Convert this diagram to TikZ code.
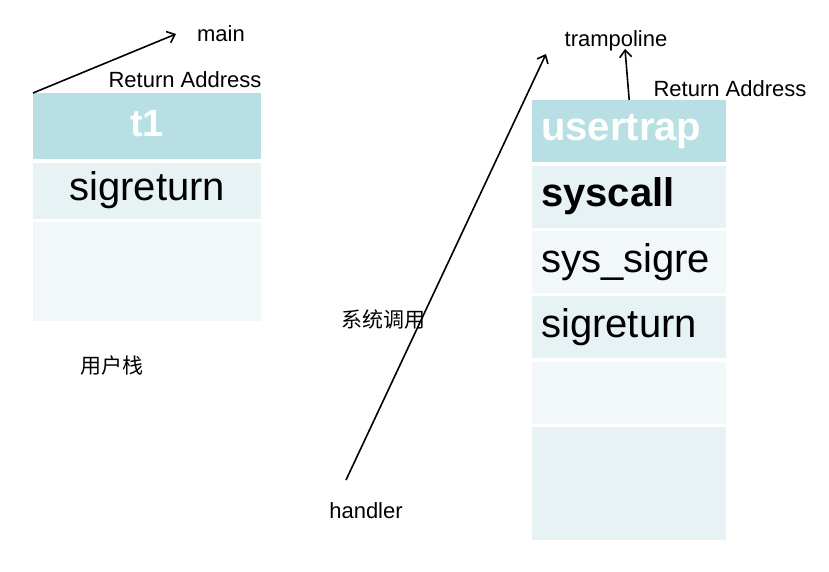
\documentclass[tikz,border=0pt]{standalone}
\usepackage{fontspec}
\setmainfont{Liberation Sans}
\newfontfamily\cjk{Noto Sans CJK SC}
\usetikzlibrary{positioning, arrows.meta}
\definecolor{hdrblue}{RGB}{184,223,227}
\definecolor{rowdark}{RGB}{230,242,244}
\definecolor{rowlight}{RGB}{242,248,250}

\begin{document}
\begin{tikzpicture}[x=1pt, y=-1pt,
  cell/.style={inner sep=0pt, anchor=north west, font=\fontsize{40}{44}\selectfont},
  lcell/.style={cell, minimum width=228pt},
  rcell/.style={cell, minimum width=194pt, text width=176pt, inner xsep=9pt, align=left},
  hdr/.style={fill=hdrblue, text=white},
  lbl/.style={font=\fontsize{22}{26}\selectfont},
  cjklbl/.style={font=\cjk\fontsize{21}{24}\selectfont},
  arr/.style={-{Straight Barb[length=7pt, width=12pt, line width=1.6pt]}, line width=1.6pt}]
\useasboundingbox (0,0) rectangle (829,571);

% user stack
\node[lcell, hdr, minimum height=66pt, font=\bfseries\fontsize{38}{42}\selectfont] (t1) at (33,93) {\raisebox{6pt}{t1}};
\node[lcell, fill=rowdark, minimum height=56pt, below=3pt of t1] (lsig) {sigreturn};
\node[lcell, fill=rowlight, minimum height=99pt, below=3pt of lsig] (lempty) {};

% kernel side
\node[rcell, hdr, minimum height=62pt, font=\bfseries\fontsize{40}{44}\selectfont] (usertrap) at (532,100) {usertrap};
\node[rcell, fill=rowdark, minimum height=62pt, font=\bfseries\fontsize{40}{44}\selectfont, below=3pt of usertrap] (syscall) {syscall};
\node[rcell, fill=rowlight, minimum height=62pt, below=3pt of syscall] (syssigre) {sys\_sigre};
\node[rcell, fill=rowdark, minimum height=62pt, below=3pt of syssigre] (rsig) {sigreturn};
\node[rcell, fill=rowlight, minimum height=62pt, below=3pt of rsig] (rempty) {};
\node[rcell, fill=rowdark, minimum height=113pt, below=3pt of rempty] (rbottom) {};

% labels
\node[lbl] (main) at (221,34) {main};
\node[lbl] (lret) at (185,80) {Return Address};
\node[lbl] (tramp) at (616,41) {trampoline};
\node[lbl] (rret) at (730,89) {Return Address};
\node[lbl] (handler) at (366,511) {handler};
\node[cjklbl] (sctext) at (383,320) {系统调用};
\node[cjklbl] (ustack) at (112,366) {用户栈};

% arrows
\coordinate (mainin) at (176,34);
\coordinate (trampin) at (625,49);
\coordinate (hstart) at (346,480);
\coordinate (hend) at (546,54);
\draw[arr] (t1.north west) -- (mainin);
\draw[arr] (usertrap.north) -- (trampin);
\draw[arr] (hstart) -- (hend);

\end{tikzpicture}
\end{document}
